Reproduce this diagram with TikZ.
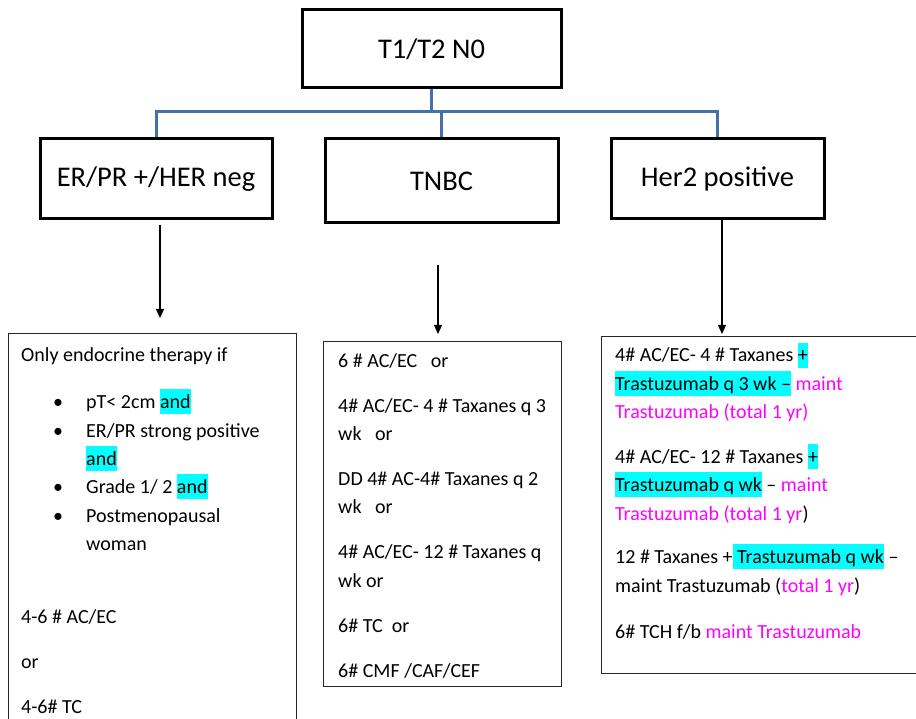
\documentclass[tikz,border=0pt]{standalone}
\usepackage{fontspec}
\setmainfont{Carlito}
\usetikzlibrary{arrows.meta}
\definecolor{hlcyan}{RGB}{0,255,255}
\definecolor{mag}{RGB}{255,0,255}
\definecolor{busblue}{RGB}{68,114,166}
\newcommand\hlc[1]{{\setlength\fboxsep{0pt}\colorbox{hlcyan}{\rule[-6pt]{0pt}{25pt}#1}}}
\newcommand\mg[1]{\textcolor{mag}{#1}}
\begin{document}
\begin{tikzpicture}[x=1pt,y=-1pt,
  headbox/.style={draw=black,line width=3pt,inner sep=0pt,font=\fontsize{28.5}{33}\selectfont},
  contbox/.style={draw=black!85,line width=1pt,inner sep=0pt},
  txt/.style={anchor=base west,inner sep=0pt,font=\fontsize{20}{28.5}\selectfont},
  bul/.style={anchor=base,inner sep=0pt,font=\fontsize{20}{28.5}\selectfont},
  bus/.style={draw=busblue,line width=3pt},
  arr/.style={draw=black,line width=1.2pt,-{Triangle[length=9pt,width=8pt]}}]
\useasboundingbox (0,0) rectangle (916,719);
\clip (0,0) rectangle (916,719);
\fill[white] (0,0) rectangle (916,719);
% heading boxes
\node[headbox,minimum width=259pt,minimum height=78pt] (top) at (431.5,49) {T1/T2 N0};
\node[headbox,minimum width=232pt,minimum height=80pt] (erpr) at (156,179) {ER/PR +/HER neg};
\node[headbox,minimum width=233pt,minimum height=84pt] (tnbc) at (441.5,181) {TNBC};
\node[headbox,minimum width=213pt,minimum height=80pt] (her) at (717.5,179) {Her2 positive};
% bus
\coordinate (busc) at (431.5,112);
\draw[bus] (top.south) -- (busc);
\draw[bus] (erpr.north) |- (her.north |- busc) -- (her.north);
\draw[bus] (tnbc.north) -- (tnbc.north |- busc);
% content boxes
\node[contbox,minimum width=288pt,minimum height=406pt] (lbox) at (152,537) {};
\node[contbox,minimum width=238pt,minimum height=344pt] (mbox) at (442,514) {};
\node[contbox,minimum width=329pt,minimum height=336pt] (rbox) at (765.5,505) {};
% arrows
\coordinate (la) at (160,225);
\coordinate (lb) at (160,318);
\coordinate (ma) at (438,265);
\coordinate (mb) at (438,334);
\coordinate (ra) at (722,219);
\coordinate (rb) at (722,334);
\draw[arr] (la) -- (lb);
\draw[arr] (ma) -- (mb);
\draw[arr] (ra) -- (rb);
% left text
\node[txt] (l1) at (21,362) {Only endocrine therapy if};
\node[bul] (b1) at (58,408) {•};
\node[bul] (b2) at (58,437) {•};
\node[bul] (b3) at (58,493) {•};
\node[bul] (b4) at (58,522) {•};
\node[txt] (l2) at (86,408) {pT< 2cm \hlc{and}};
\node[txt] (l3) at (86,437) {ER/PR strong positive};
\node[txt] (l4) at (86,465) {\hlc{and}};
\node[txt] (l5) at (86,493) {Grade 1/ 2 \hlc{and}};
\node[txt] (l6) at (86,522) {Postmenopausal};
\node[txt] (l7) at (86,550) {woman};
\node[txt] (l8) at (21,623) {4-6 \# AC/EC};
\node[txt] (l9) at (21,668) {or};
\node[txt] (l10) at (21,713) {4-6\# TC};
% middle text
\node[txt] (m1) at (338,367) {6 \# AC/EC\ \ \ or};
\node[txt] (m2) at (338,412) {4\# AC/EC- 4 \# Taxanes q 3};
\node[txt] (m3) at (338,440) {wk\ \ \ or};
\node[txt] (m4) at (338,485) {DD 4\# AC-4\# Taxanes q 2};
\node[txt] (m5) at (338,513) {wk\ \ \ or};
\node[txt] (m6) at (338,558) {4\# AC/EC- 12 \# Taxanes q};
\node[txt] (m7) at (338,587) {wk or};
\node[txt] (m8) at (338,632) {6\# TC\ \ or};
\node[txt] (m9) at (338,677) {6\# CMF /CAF/CEF};
% right text
\node[txt] (r1) at (615,362) {4\# AC/EC- 4 \# Taxanes \hlc{+}};
\node[txt] (r2) at (615,390) {\hlc{Trastuzumab q 3 wk –} \mg{maint}};
\node[txt] (r3) at (615,418) {\mg{Trastuzumab (total 1 yr)}};
\node[txt] (r4) at (615,463) {4\# AC/EC- 12 \# Taxanes \hlc{+}};
\node[txt] (r5) at (615,491) {\hlc{Trastuzumab q wk} – \mg{maint}};
\node[txt] (r6) at (615,520) {\mg{Trastuzumab (total 1 yr}) };
\node[txt] (r7) at (615,563) {12 \# Taxanes +\hlc{ Trastuzumab q wk} –};
\node[txt] (r8) at (615,592) {maint Trastuzumab (\mg{total 1 yr})};
\node[txt] (r9) at (615,638) {6\# TCH f/b \mg{maint Trastuzumab}};
\end{tikzpicture}
\end{document}
